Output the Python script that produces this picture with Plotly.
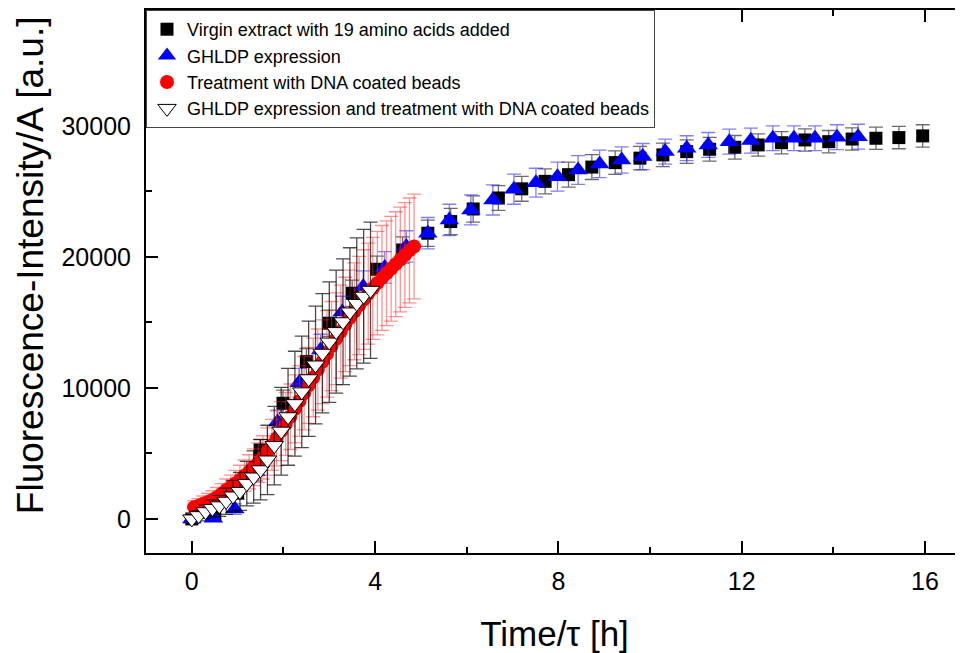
import plotly.graph_objects as go

# ---------------- data ----------------
# Virgin extract with 19 amino acids added (black squares)
virgin_t = [0.0, 0.5, 1.0, 1.49, 1.99, 2.5, 3.0, 3.5, 4.04, 4.6, 5.15, 5.65, 6.14, 6.69,
            7.2, 7.71, 8.22, 8.73, 9.24, 9.78, 10.28, 10.8, 11.3, 11.85, 12.36, 12.87,
            13.38, 13.9, 14.41, 14.93, 15.43, 15.95]
virgin_y = [0, 300, 2000, 5270, 8830, 12010, 14940, 17230, 19060, 20530, 21810, 22700,
            23660, 24500, 25200, 25770, 26280, 26860, 27200, 27540, 27790, 28040, 28220,
            28370, 28550, 28720, 28930, 28800, 29000, 29060, 29110, 29240]
virgin_err = [200, 300, 500, 800, 1000, 1000, 1000, 1000, 1000, 1000, 1000, 1000, 1000,
              950, 950, 950, 950, 950, 900, 900, 900, 900, 900, 900, 850, 850, 850, 850,
              850, 850, 850, 850]

# GHLDP expression (blue triangles)
ghldp_t = [0.0, 0.47, 0.94, 1.4, 1.87, 2.34, 2.81, 3.28, 3.74, 4.21, 4.68, 5.15, 5.62,
           6.09, 6.57, 7.03, 7.51, 7.98, 8.43, 8.9, 9.38, 9.84, 10.33, 10.8, 11.27,
           11.73, 12.2, 12.68, 13.14, 13.6, 14.08, 14.54]
ghldp_y = [0, 50, 750, 3600, 7400, 10400, 12900, 15800, 17730, 19200, 20800, 21810,
           22820, 23590, 24350, 25170, 25670, 26130, 26640, 27100, 27400, 27660, 28040,
           28300, 28550, 28800, 28880, 29060, 29060, 29060, 29140, 29180]
ghldp_err = [200, 200, 400, 700, 900, 1100, 1200, 1200, 1200, 1200, 1200, 1200, 1200,
             1150, 1150, 1150, 1100, 1100, 1100, 1050, 1000, 1000, 950, 950, 950, 950,
             950, 950, 950, 950, 950, 950]

# Treatment with DNA coated beads (red circles)
beads_t = [0.05, 0.15, 0.25, 0.35, 0.45, 0.55, 0.65, 0.75, 0.85, 0.95, 1.05, 1.15, 1.25,
           1.35, 1.45, 1.55, 1.65, 1.75, 1.85, 1.95, 2.05, 2.15, 2.25, 2.35, 2.45, 2.55,
           2.65, 2.75, 2.85, 2.95, 3.05, 3.15, 3.25, 3.35, 3.45, 3.55, 3.65, 3.75, 3.85,
           3.95, 4.05, 4.15, 4.25, 4.35, 4.45, 4.55, 4.65, 4.75, 4.85]
beads_y = [900, 1000, 1150, 1300, 1450, 1650, 1900, 2200, 2450, 2700, 3000, 3300, 3600,
           3950, 4300, 4700, 5150, 5650, 6150, 6700, 7250, 7800, 8400, 9000, 9600, 10200,
           10800, 11400, 12000, 12600, 13200, 13750, 14300, 14850, 15350, 15850, 16300,
           16750, 17200, 17600, 18000, 18400, 18750, 19100, 19450, 19800, 20150, 20500,
           20800]
beads_err = [500, 550, 600, 650, 700, 750, 800, 850, 900, 1000, 1100, 1200, 1300, 1400,
             1500, 1650, 1800, 1950, 2100, 2250, 2400, 2500, 2600, 2700, 2800, 2900, 3000,
             3100, 3200, 3300, 3400, 3500, 3550, 3600, 3650, 3700, 3750, 3800, 3850, 3900,
             3950, 4000, 4000, 4000, 4000, 4000, 4000, 4000, 4000]

# GHLDP expression and treatment with DNA coated beads (open down-triangles)
both_t = [0.0, 0.15, 0.3, 0.45, 0.6, 0.75, 0.9, 1.05, 1.2, 1.35, 1.5, 1.65, 1.8, 1.95,
          2.1, 2.25, 2.4, 2.55, 2.7, 2.85, 3.0, 3.15, 3.3, 3.45, 3.6, 3.75, 3.9]
both_y = [0, 250, 550, 800, 1000, 1350, 1750, 2100, 2700, 3200, 3750, 4500, 5600, 6700,
          7800, 8800, 9700, 10700, 11750, 12650, 13500, 14300, 15050, 15800, 16450, 17000,
          17450]
both_err = [300, 400, 500, 650, 800, 1000, 1200, 1450, 1700, 2000, 2300, 2650, 3000, 3350,
            3700, 4000, 4250, 4400, 4500, 4550, 4600, 4700, 4800, 4900, 5000, 5100, 5200]

names = ["Virgin extract with 19 amino acids added",
         "GHLDP expression",
         "Treatment with DNA coated beads",
         "GHLDP expression and treatment with DNA coated beads"]

x_ticks = [0, 4, 8, 12, 16]
y_ticks = [0, 10000, 20000, 30000]
x_title = "Time/τ [h]"
y_title = "Fluorescence-Intensity/A [a.u.]"

FONT = "Liberation Sans, Arial, sans-serif"

fig = go.Figure()

fig.add_trace(go.Scatter(
    x=virgin_t, y=virgin_y, mode="markers", name=names[0],
    marker=dict(symbol="square", size=13, color="black"),
    error_y=dict(type="data", array=virgin_err, visible=True,
                 color="rgba(60,60,60,0.75)", thickness=1.3, width=7)))

fig.add_trace(go.Scatter(
    x=ghldp_t, y=ghldp_y, mode="markers", name=names[1],
    marker=dict(symbol="triangle-up", size=17, color="#0000ff"),
    error_y=dict(type="data", array=ghldp_err, visible=True,
                 color="rgba(40,40,255,0.6)", thickness=1.3, width=7)))

fig.add_trace(go.Scatter(
    x=beads_t, y=beads_y, mode="markers", name=names[2],
    marker=dict(symbol="circle", size=14, color="#ff0000"),
    error_y=dict(type="data", array=beads_err, visible=True,
                 color="rgba(255,40,40,0.5)", thickness=1.3, width=7)))

fig.add_trace(go.Scatter(
    x=both_t, y=both_y, mode="markers", name=names[3],
    marker=dict(symbol="triangle-down", size=16, color="white",
                line=dict(color="black", width=1)),
    error_y=dict(type="data", array=both_err, visible=True,
                 color="rgba(0,0,0,0.7)", thickness=1.3, width=7)))

# helper axis for tick stubs on the right edge
fig.add_trace(go.Scatter(x=[None], y=[None], yaxis="y2", showlegend=False,
                         hoverinfo="skip"))

yrange = [-2600, 38850]

fig.update_layout(
    width=955, height=645,
    margin=dict(l=138, r=0, t=2, b=100, autoexpand=False),
    paper_bgcolor="white", plot_bgcolor="white",
    font=dict(family=FONT, color="black"),
    showlegend=True,
    legend=dict(x=0, y=1, xanchor="left", yanchor="top",
                bgcolor="white", bordercolor="#444", borderwidth=1,
                font=dict(size=18, family=FONT), tracegroupgap=0,
                itemsizing="trace"),
    xaxis=dict(
        range=[-1.0, 16.83], tickvals=x_ticks, ticktext=[str(v) for v in x_ticks],
        automargin=False,
        showgrid=False, zeroline=False,
        showline=True, linecolor="black", linewidth=2, mirror="ticks",
        ticks="inside", ticklen=12, tickwidth=2, tickcolor="black",
        minor=dict(dtick=2, tick0=0, ticks="inside", ticklen=6, tickwidth=2,
                   tickcolor="black", showgrid=False),
        tickfont=dict(size=25, family=FONT),
        ticklabelstandoff=5,
        title=dict(text=x_title, font=dict(size=35, family=FONT), standoff=27),
    ),
    yaxis=dict(
        range=yrange, tickvals=y_ticks, ticktext=[str(v) for v in y_ticks],
        automargin=False,
        showgrid=False, zeroline=False,
        showline=True, linecolor="black", linewidth=2, mirror=False,
        ticks="inside", ticklen=12, tickwidth=2, tickcolor="black",
        minor=dict(dtick=5000, tick0=0, ticks="inside", ticklen=6, tickwidth=2,
                   tickcolor="black", showgrid=False),
        tickfont=dict(size=25, family=FONT),
        ticklabelstandoff=8,
    ),
    yaxis2=dict(
        range=yrange, overlaying="y", side="right", tickvals=y_ticks,
        automargin=False,
        showticklabels=False, showgrid=False, zeroline=False, showline=False,
        ticks="inside", ticklen=5, tickwidth=2, tickcolor="black",
    ),
    annotations=[dict(
        text=y_title, xref="paper", yref="paper", x=-0.142, y=0.530,
        xanchor="center", yanchor="middle", textangle=-90, showarrow=False,
        font=dict(size=37, family=FONT, color="black"))],
)

fig.write_html("out.html")
